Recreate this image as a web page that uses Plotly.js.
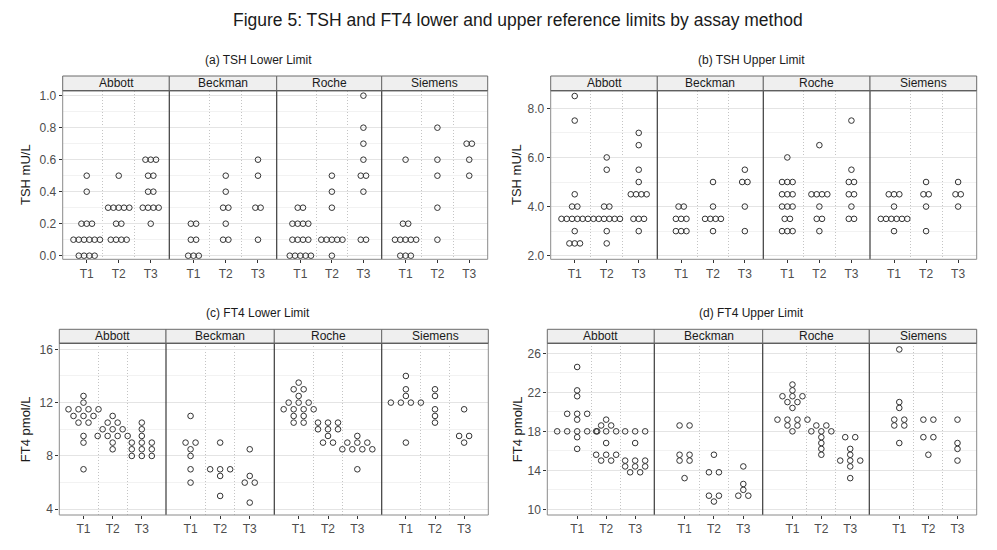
<!DOCTYPE html>
<html><head><meta charset="utf-8">
<script src="https://cdn.plot.ly/plotly-3.0.1.min.js"></script>
<style>html,body{margin:0;padding:0;background:#fff}#chart{width:997px;height:550px}</style>
</head><body><div id="chart"></div>
<script>
// ---------------- DATA ----------------
const assays = ['Abbott', 'Beckman', 'Roche', 'Siemens'];
const timepoints = ['T1', 'T2', 'T3'];

// (a) TSH lower limit (mU/L), per assay: [T1, T2, T3]
const tshLowerAbbott = [
  [0.5, 0.4, 0.2, 0.2, 0.2, 0.1, 0.1, 0.1, 0.1, 0.1, 0.1, 0.0, 0.0, 0.0, 0.0],
  [0.5, 0.3, 0.3, 0.3, 0.3, 0.3, 0.2, 0.2, 0.1, 0.1, 0.1, 0.1],
  [0.6, 0.6, 0.6, 0.5, 0.5, 0.4, 0.4, 0.3, 0.3, 0.3, 0.3, 0.2]
];
const tshLowerBeckman = [
  [0.2, 0.2, 0.1, 0.1, 0.0, 0.0, 0.0],
  [0.5, 0.4, 0.3, 0.3, 0.2, 0.1, 0.1],
  [0.6, 0.5, 0.3, 0.3, 0.1]
];
const tshLowerRoche = [
  [0.3, 0.3, 0.2, 0.2, 0.2, 0.2, 0.1, 0.1, 0.1, 0.1, 0.0, 0.0, 0.0, 0.0, 0.0],
  [0.5, 0.4, 0.3, 0.1, 0.1, 0.1, 0.1, 0.1, 0.0],
  [1.0, 0.8, 0.7, 0.6, 0.5, 0.5, 0.4, 0.1, 0.1]
];
const tshLowerSiemens = [
  [0.6, 0.2, 0.2, 0.1, 0.1, 0.1, 0.1, 0.1, 0.0, 0.0, 0.0],
  [0.8, 0.6, 0.5, 0.3, 0.1],
  [0.7, 0.7, 0.6, 0.5]
];

// (b) TSH upper limit (mU/L)
const tshUpperAbbott = [
  [8.5, 7.5, 4.5, 4.0, 4.0, 3.5, 3.5, 3.5, 3.5, 3.5, 3.5, 3.0, 2.5, 2.5, 2.5],
  [6.0, 5.5, 4.0, 4.0, 3.5, 3.5, 3.5, 3.5, 3.5, 3.5, 3.0, 2.5],
  [7.0, 6.5, 5.5, 5.0, 4.5, 4.5, 4.5, 4.5, 3.5, 3.5, 3.5, 3.0]
];
const tshUpperBeckman = [
  [4.0, 4.0, 3.5, 3.5, 3.5, 3.0, 3.0, 3.0],
  [5.0, 4.0, 3.5, 3.5, 3.5, 3.5, 3.0],
  [5.5, 5.0, 5.0, 4.0, 3.0]
];
const tshUpperRoche = [
  [6.0, 5.0, 5.0, 5.0, 4.5, 4.5, 4.5, 4.0, 4.0, 4.0, 3.5, 3.5, 3.0, 3.0, 3.0],
  [6.5, 4.5, 4.5, 4.5, 4.5, 4.0, 3.5, 3.5, 3.0],
  [7.5, 5.5, 5.0, 5.0, 4.5, 4.5, 4.0, 3.5, 3.5]
];
const tshUpperSiemens = [
  [4.5, 4.5, 4.5, 4.0, 3.5, 3.5, 3.5, 3.5, 3.5, 3.5, 3.0],
  [5.0, 4.5, 4.5, 4.0, 3.0],
  [5.0, 4.5, 4.5, 4.0]
];

// (c) FT4 lower limit (pmol/L)
const ft4LowerAbbott = [
  [12.5, 12.0, 11.5, 11.5, 11.5, 11.5, 11.0, 11.0, 11.0, 10.5, 10.5, 9.5, 9.0, 7.0],
  [11.0, 10.5, 10.5, 10.0, 10.0, 10.0, 9.5, 9.5, 9.5, 9.5, 9.0, 8.5],
  [10.5, 10.0, 9.5, 9.0, 9.0, 9.0, 8.5, 8.5, 8.5, 8.0, 8.0, 8.0]
];
const ft4LowerBeckman = [
  [11.0, 9.0, 9.0, 8.5, 8.0, 7.0, 6.0],
  [9.0, 7.0, 7.0, 7.0, 6.5, 5.0],
  [8.5, 6.5, 6.0, 6.0, 4.5]
];
const ft4LowerRoche = [
  [13.5, 13.0, 13.0, 12.5, 12.0, 12.0, 12.0, 11.5, 11.5, 11.5, 11.5, 11.0, 11.0, 10.5, 10.5],
  [10.5, 10.5, 10.5, 10.0, 10.0, 10.0, 9.5, 9.0, 9.0],
  [9.5, 9.0, 9.0, 9.0, 8.5, 8.5, 8.5, 8.5, 7.0]
];
const ft4LowerSiemens = [
  [14.0, 13.0, 12.5, 12.0, 12.0, 12.0, 12.0, 9.0],
  [13.0, 12.5, 11.5, 11.0, 10.5],
  [11.5, 9.5, 9.5, 9.0]
];

// (d) FT4 upper limit (pmol/L)
const ft4UpperAbbott = [
  [24.6, 22.2, 21.6, 19.8, 19.8, 19.8, 19.2, 18.0, 18.0, 18.0, 18.0, 18.0, 17.4, 16.2],
  [19.2, 18.6, 18.6, 18.0, 18.0, 18.0, 16.8, 15.6, 15.6, 15.6, 15.0, 15.0],
  [18.0, 18.0, 18.0, 16.8, 15.0, 15.0, 15.0, 14.4, 14.4, 14.4, 13.8, 13.8]
];
const ft4UpperBeckman = [
  [18.6, 18.6, 15.6, 15.6, 15.0, 15.0, 13.2],
  [15.6, 13.8, 13.8, 11.4, 11.4, 10.8],
  [14.4, 12.6, 12.0, 11.4, 11.4]
];
const ft4UpperRoche = [
  [22.8, 22.2, 21.6, 21.6, 21.6, 21.0, 21.0, 20.4, 19.2, 19.2, 19.2, 19.2, 18.6, 18.6, 18.0],
  [18.6, 18.6, 18.0, 18.0, 18.0, 17.4, 16.8, 16.2, 15.6],
  [17.4, 17.4, 16.2, 15.6, 15.0, 15.0, 15.0, 14.4, 13.2]
];
const ft4UpperSiemens = [
  [26.4, 21.0, 20.4, 19.2, 19.2, 18.6, 18.6, 16.8],
  [19.2, 19.2, 17.4, 17.4, 15.6],
  [19.2, 16.8, 16.2, 15.0]
];

const panelTitles = ['(a) TSH Lower Limit', '(b) TSH Upper Limit', '(c) FT4 Lower Limit', '(d) FT4 Upper Limit'];
const yTitles = ['TSH mU/L', 'TSH mU/L', 'FT4 pmol/L', 'FT4 pmol/L'];
const yTicksA = [0, 0.2, 0.4, 0.6, 0.8, 1.0];
const yTicksB = [2, 4, 6, 8];
const yTicksC = [4, 8, 12, 16];
const yTicksD = [10, 14, 18, 22, 26];

// ---------------- LAYOUT CONFIG ----------------
const W = 997, H = 550;
const FONT = 'Liberation Sans, Arial, Helvetica, sans-serif';
const px = v => v / W, py = v => 1 - v / H;

const panels = [
  {data: [tshLowerAbbott, tshLowerBeckman, tshLowerRoche, tshLowerSiemens],
   xs: [62.7, 169.3, 276.7, 381.7, 487.7], top: 90.7, bot: 259.3, stripTop: 76,
   yRange: [-0.0225, 1.031], xRange: [0.25, 3.58], yTicks: yTicksA, fmt: '.1f',
   spacing: 5.3, dot: 5.6, titleX: 258, titleY: 60, ytX: 26},
  {data: [tshUpperAbbott, tshUpperBeckman, tshUpperRoche, tshUpperSiemens],
   xs: [550.7, 657.3, 763.3, 870, 976.7], top: 90.7, bot: 259.3, stripTop: 76,
   yRange: [1.853, 8.717], xRange: [0.25, 3.58], yTicks: yTicksB, fmt: '.1f',
   spacing: 5.3, dot: 5.6, titleX: 751, titleY: 60, ytX: 517},
  {data: [ft4LowerAbbott, ft4LowerBeckman, ft4LowerRoche, ft4LowerSiemens],
   xs: [59.3, 166, 274.3, 381.7, 488.3], top: 343.3, bot: 515, stripTop: 329.3,
   yRange: [3.57, 16.45], xRange: [0.17, 3.83], yTicks: yTicksC, fmt: 'd',
   spacing: 10, dot: 5.6, titleX: 258, titleY: 313, ytX: 25},
  {data: [ft4UpperAbbott, ft4UpperBeckman, ft4UpperRoche, ft4UpperSiemens],
   xs: [547.3, 654.3, 762.7, 869.3, 976.7], top: 343.3, bot: 515, stripTop: 329.3,
   yRange: [9.42, 27.03], xRange: [-0.03, 3.66], yTicks: yTicksD, fmt: 'd',
   spacing: 10, dot: 5.6, titleX: 751, titleY: 313, ytX: 517}
];

const traces = [];
const shapes = [];
const annotations = [];
const layout = {
  width: W, height: H, margin: {l: 0, r: 0, t: 0, b: 0},
  paper_bgcolor: '#ffffff', plot_bgcolor: '#ffffff', showlegend: false,
  font: {family: FONT, color: '#1a1a1a'}
};

function minorVals(ticks) {
  const out = [];
  for (let i = 0; i < ticks.length - 1; i++) out.push((ticks[i] + ticks[i + 1]) / 2);
  return out;
}

let idx = 0;
panels.forEach((p, pi) => {
  p.data.forEach((groups, j) => {
    idx++;
    const sx = idx === 1 ? '' : String(idx);
    const x0 = p.xs[j], x1 = p.xs[j + 1];
    const pxPerUnit = (x1 - x0) / (p.xRange[1] - p.xRange[0]);
    const xv = [], yv = [];
    groups.forEach((vals, t) => {
      const counts = {}, seen = {};
      vals.forEach(v => { counts[v] = (counts[v] || 0) + 1; });
      vals.forEach(v => {
        seen[v] = seen[v] === undefined ? 0 : seen[v] + 1;
        const off = (seen[v] - (counts[v] - 1) / 2) * p.spacing / pxPerUnit;
        xv.push(t + 1 + off);
        yv.push(v);
      });
    });
    traces.push({
      type: 'scatter', mode: 'markers', x: xv, y: yv,
      xaxis: 'x' + sx, yaxis: 'y' + sx, hoverinfo: 'skip', cliponaxis: false,
      marker: {symbol: 'circle-open', size: p.dot, color: '#333333', line: {width: 1}}
    });
    layout['xaxis' + sx] = {
      domain: [px(x0), px(x1)], range: p.xRange, anchor: 'y' + sx,
      tickmode: 'array', tickvals: [1, 2, 3], ticktext: timepoints,
      showgrid: false, zeroline: false, showline: false,
      ticks: 'outside', ticklen: 3, tickwidth: 1, tickcolor: '#333333',
      tickfont: {family: FONT, size: 12, color: '#4d4d4d'}, fixedrange: true,
      minor: {tickmode: 'array', tickvals: [1.5, 2.5], showgrid: true, gridcolor: '#c4c4c4',
              griddash: '1px,2px', gridwidth: 1, ticks: ''}
    };
    layout['yaxis' + sx] = {
      domain: [py(p.bot), py(p.top)], range: p.yRange, anchor: 'x' + sx,
      tickmode: 'array', tickvals: p.yTicks, tickformat: p.fmt,
      showgrid: true, gridcolor: '#e4e4e4', gridwidth: 1, zeroline: false, showline: false,
      showticklabels: j === 0, ticks: j === 0 ? 'outside' : '', ticklen: 3, tickwidth: 1,
      tickcolor: '#333333', tickfont: {family: FONT, size: 12, color: '#4d4d4d'}, fixedrange: true,
      minor: {tickmode: 'array', tickvals: minorVals(p.yTicks), showgrid: true, gridcolor: '#f2f2f2', gridwidth: 1, ticks: ''}
    };
    // strip
    shapes.push({type: 'rect', xref: 'paper', yref: 'paper', x0: px(x0), x1: px(x1),
      y0: py(p.top), y1: py(p.stripTop), fillcolor: '#efefef', line: {color: '#6a6a6a', width: 1}, layer: 'above'});
    annotations.push({xref: 'paper', yref: 'paper', x: px((x0 + x1) / 2), y: py((p.top + p.stripTop) / 2),
      text: assays[j], showarrow: false, xanchor: 'center', yanchor: 'middle',
      font: {family: FONT, size: 12, color: '#1a1a1a'}});
    // inner divider
    if (j > 0) {
      shapes.push({type: 'line', xref: 'paper', yref: 'paper', x0: px(x0), x1: px(x0),
        y0: py(p.bot), y1: py(p.top), line: {color: '#3a3a3a', width: 1.2}, layer: 'above'});
    }
  });
  // outer border of plot area
  shapes.push({type: 'rect', xref: 'paper', yref: 'paper', x0: px(p.xs[0]), x1: px(p.xs[4]),
    y0: py(p.bot), y1: py(p.top), line: {color: '#8a8a8a', width: 1}, layer: 'above'});
  shapes.push({type: 'line', xref: 'paper', yref: 'paper', x0: px(p.xs[0]), x1: px(p.xs[4]),
    y0: py(p.top), y1: py(p.top), line: {color: '#555555', width: 1}, layer: 'above'});
  // panel title
  annotations.push({xref: 'paper', yref: 'paper', x: px(p.titleX), y: py(p.titleY),
    text: panelTitles[pi], showarrow: false, xanchor: 'center', yanchor: 'middle',
    font: {family: FONT, size: 12, color: '#1a1a1a'}});
  // y axis title
  annotations.push({xref: 'paper', yref: 'paper', x: px(p.ytX), y: py((p.top + p.bot) / 2),
    text: yTitles[pi], showarrow: false, textangle: -90, xanchor: 'center', yanchor: 'middle',
    font: {family: FONT, size: 13, color: '#1a1a1a'}});
});

annotations.push({xref: 'paper', yref: 'paper', x: px(518), y: py(20),
  text: 'Figure 5: TSH and FT4 lower and upper reference limits by assay method',
  showarrow: false, xanchor: 'center', yanchor: 'middle',
  font: {family: FONT, size: 17.5, color: '#1a1a1a'}});

layout.shapes = shapes;
layout.annotations = annotations;

Plotly.newPlot('chart', traces, layout, {displayModeBar: false, staticPlot: true});
</script>
</body></html>
